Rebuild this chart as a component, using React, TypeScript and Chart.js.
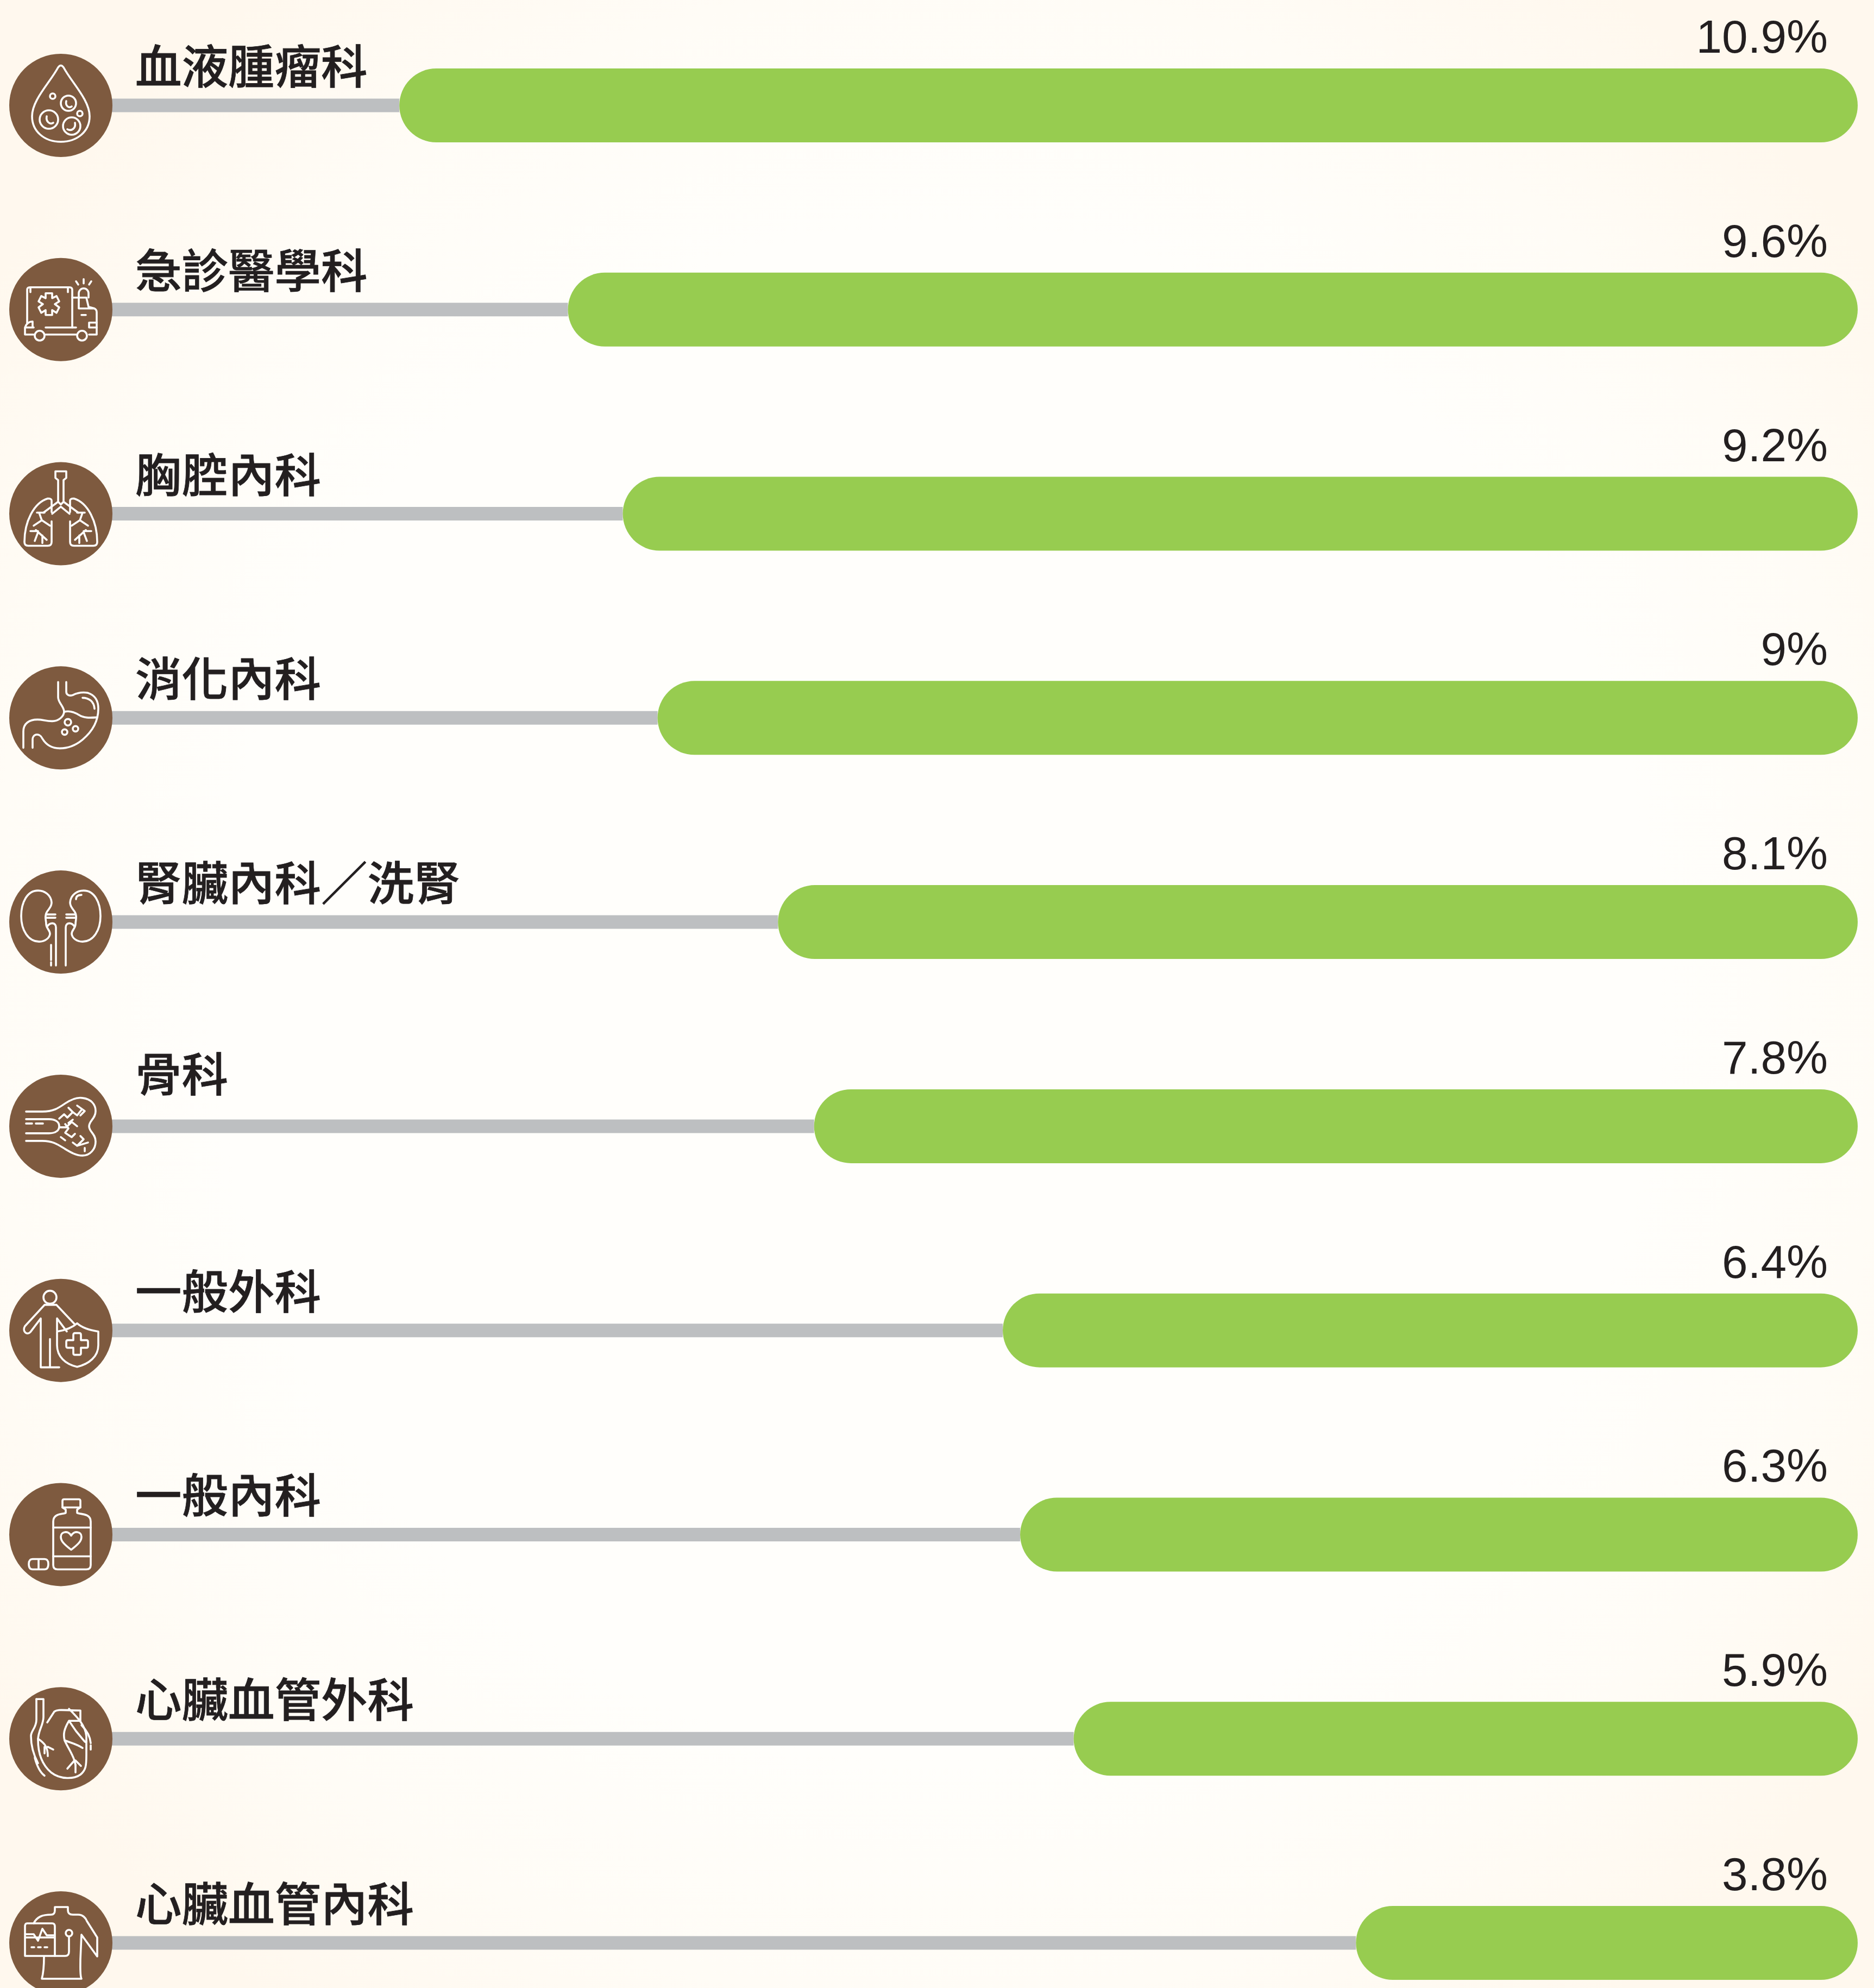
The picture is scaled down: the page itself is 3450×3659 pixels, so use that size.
import React, { useEffect, useRef } from "react";
import { Chart, registerables } from "chart.js";

Chart.register(...registerables);

const departments = ["血液腫瘤科", "急診醫學科", "胸腔內科", "消化內科", "腎臟內科／洗腎", "骨科", "一般外科", "一般內科", "心臟血管外科", "心臟血管內科"];
const percentLabels = ["10.9%", "9.6%", "9.2%", "9%", "8.1%", "7.8%", "6.4%", "6.3%", "5.9%", "3.8%"];
// bar lengths; each rounds to its printed label
const barValues = [10.9, 9.64, 9.23, 8.97, 8.07, 7.8, 6.39, 6.26, 5.86, 3.75];
const AXIS_MAX = 13.43;

const BAR = "#97cc50";
const STEM = "#bdbfc1";
const BROWN = "#7e5a3f";
const INK = "#231f20";

type Ctx = CanvasRenderingContext2D;
const stroke = (c: Ctx, d: string) => c.stroke(new Path2D(d));
const ring = (c: Ctx, x: number, y: number, r: number) => {
  c.beginPath();
  c.arc(x, y, r, 0, Math.PI * 2);
  c.stroke();
};

const icons: ((c: Ctx) => void)[] = [
  // blood drop
  (c) => {
    stroke(c, "M-5,-70 Q0,-77 5,-70 C20,-42 53,-10 53,20 C53,48 30,67 0,67 C-30,67 -53,48 -53,20 C-53,-10 -20,-42 -5,-70 Z");
    ring(c, -22, 26, 17);
    stroke(c, "M-26,20 C-28,30 -20,36 -14,32");
    ring(c, 20, 38, 16);
    stroke(c, "M26,32 C28,42 20,48 12,44");
    ring(c, 14, -4, 14);
    stroke(c, "M10,-8 C8,0 14,6 20,2");
    ring(c, -15, -17, 5); ring(c, 35, 15, 5);
  },
  // ambulance
  (c) => {
    stroke(c, "M-62,26 L-62,-36 Q-62,-41 -57,-41 L16,-41 Q21,-41 21,-36 L21,33 M-56,-41 L-56,-32 M13,-41 L13,-32");
    stroke(c, "M21,-22 L47,-22 L51,-5 L62,-2 Q66,0 66,5 L66,46 L52,46 M33,-22 L33,-2 L62,-2 M38,10 L46,10");
    stroke(c, "M33,-22 L33,-30 A9,9 0 0 1 51,-30 L51,-22");
    stroke(c, "M-66,46 L-66,33 L-52,33 L-52,22 Q-62,22 -66,33 M-66,46 L-50,46 M-28,46 L28,46 M-66,33 L-50,33 M-28,33 L28,33 M52,33 L66,33 M52,33 L52,24 L66,24");
    ring(c, -39, 48, 9); ring(c, 39, 48, 9);
    stroke(c, "M-28,-30 L-16,-30 L-16,-21 L-8,-25 L-3,-15 L-11,-10 L-3,-4 L-8,6 L-16,1 L-16,10 L-28,10 L-28,1 L-36,6 L-41,-4 L-33,-10 L-41,-15 L-36,-25 L-28,-21 Z");
    stroke(c, "M42,-56 L42,-48 M28,-52 L32,-46 M56,-52 L52,-46");
  },
  // lungs
  (c) => {
    stroke(c, "M-10,-78 L10,-78 L10,-66 L5,-62 L5,-22 L32,-2 M-10,-78 L-10,-66 L-5,-62 L-5,-22 L-32,-2 M-5,-22 L0,-17 L5,-22 M-16,0 L0,-13 L16,0");
    for (const s of [-1, 1]) {
      stroke(c, `M${s * 17},-3 L${s * 17},-24 Q${s * 17},-28 ${s * 24},-28 C${s * 50},-20 ${s * 67},15 ${s * 67},52 Q${s * 67},59 ${s * 60},59 L${s * 24},59 Q${s * 17},59 ${s * 17},52 L${s * 17},14`);
      stroke(c, `M${s * 20},22 L${s * 35},12 L${s * 50},22 M${s * 35},12 L${s * 40},-2 M${s * 30},-2 L${s * 44},-2 M${s * 26},48 L${s * 46},30 M${s * 34},40 L${s * 34},54 M${s * 42},32 L${s * 56},32 M${s * 42},34 L${s * 48},50`);
    }
  },
  // stomach
  (c) => {
    stroke(c, "M-5,-66 L-5,-38 C-5,-28 5,-22 6,-12 C6,-2 -5,6 -16,6 C-28,6 -33,3 -43,3 C-58,3 -69,10 -69,25 L-69,55");
    stroke(c, "M10,-66 L10,-48 C10,-42 16,-40 22,-42 C30,-46 40,-48 50,-46 C62,-42 69,-32 69,-17 C69,5 58,25 40,40 C28,50 14,56 -2,56 C-18,56 -28,48 -34,38 C-37,32 -42,30 -46,31 C-50,32 -52,36 -52,40 L-52,55");
    stroke(c, "M6,-11 C16,-14 26,-10 34,-5 C42,0 52,0 66,-1");
    stroke(c, "M40,-37 C52,-37 61,-30 62,-17");
    ring(c, 13, 8, 6); ring(c, 7, 26, 5); ring(c, 27, 20, 5);
  },
  // kidneys
  (c) => {
    for (const s of [-1, 1]) {
      stroke(c, `M${s * 17},-36 C${s * 18},-50 ${s * 30},-58 ${s * 42},-58 C${s * 62},-58 ${s * 73},-36 ${s * 73},-11 C${s * 73},15 ${s * 60},36 ${s * 40},36 C${s * 30},36 ${s * 21},30 ${s * 20},22 C${s * 20},14 ${s * 27},12 ${s * 27},4 C${s * 27},-4 ${s * 30},-8 ${s * 27},-16 C${s * 24},-24 ${s * 17},-26 ${s * 17},-36 Z`);
      stroke(c, `M${s * 27},-14 L${s * 10},-14 M${s * 27},-8 L${s * 10},-8 M${s * 9},80 L${s * 9},10 C${s * 9},0 ${s * 20},0 ${s * 25},8`);
    }
    stroke(c, "M-18,42 L-18,70 M-18,74 L-18,80");
    stroke(c, "M38,-50 C30,-50 28,-46 28,-42");
  },
  // bone
  (c) => {
    stroke(c, "M-64,-27 L-34,-27 C-14,-27 -5,-33 8,-42 C20,-50 30,-54 40,-52 C56,-50 64,-40 64,-28 C64,-14 52,-10 52,0 C52,10 64,14 64,28 C64,42 54,54 40,54 C28,54 18,48 8,42 C-5,34 -14,27 -34,27 L-64,27");
    stroke(c, "M-64,-13 L-22,-13 C-10,-13 -3,-8 -3,0 C-3,8 -10,13 -22,13 L-64,13");
    stroke(c, "M-64,-5 L-53,-5 M-46,-5 L-33,-5");
    stroke(c, "M-3,-14 L6,-22 L12,-16 L22,-26 L30,-20 L38,-30 M14,-34 L22,-26 M30,-38 L44,-28 L36,-20 M-3,2 L10,2 L20,-8 L30,0 M8,-4 L14,4 L8,12 L20,20 L26,14 M0,20 L8,26 M22,30 L30,36 L42,24 L36,18 M30,36 L50,30 M44,40 L44,46 M14,-6 L22,-12");
  },
  // person + shield
  (c) => {
    ring(c, -20, -61, 12);
    stroke(c, "M-30,-47 L-8,-47 L26,-11 M-30,-47 L-66,-8 C-72,2 -62,10 -56,3 L-37,-22 L-37,68 L-3,68 M-20,68 L-20,16 M-7,-22 L-7,0 M-7,-22 L11,2");
    stroke(c, "M30,-13 C40,-4 55,0 69,2 L69,27 C69,48 52,62 30,67 C8,62 -7,48 -7,27 L-7,2 C7,0 20,-4 30,-13 Z");
    stroke(c, "M23,8 Q23,5 26,5 L34,5 Q37,5 37,8 L37,18 L47,18 Q50,18 50,21 L50,29 Q50,32 47,32 L37,32 L37,42 Q37,45 34,45 L26,45 Q23,45 23,42 L23,32 L13,32 Q10,32 10,29 L10,21 Q10,18 13,18 L23,18 Z");
  },
  // medicine bottle
  (c) => {
    stroke(c, "M6,-65 L33,-65 Q36,-65 36,-62 L36,-50 L30,-46 L30,-40 C34,-37 55,-40 55,-24 L55,56 Q55,64 47,64 L-6,64 Q-14,64 -14,56 L-14,-24 C-14,-40 5,-37 9,-40 L9,-46 L3,-50 L3,-62 Q3,-65 6,-65 Z");
    stroke(c, "M3,-50 L36,-50 M-14,-13 L55,-13 M-14,40 L55,40");
    stroke(c, "M19,28 C6,18 0,12 0,4 C0,-6 14,-8 19,2 C24,-8 38,-6 38,4 C38,12 32,18 19,28 Z");
    stroke(c, "M-52,45 L-30,45 Q-23,45 -23,54 Q-23,64 -30,64 L-52,64 Q-59,64 -59,54 Q-59,45 -52,45 Z M-41,45 L-41,64");
  },
  // heart
  (c) => {
    stroke(c, "M-45,-73 L-32,-73 L-32,-40 C-32,-25 -42,-15 -42,2 C-42,30 -32,50 -18,62 C0,76 25,74 36,66 C46,58 47,50 47,30 L47,-5 C45,-25 30,-40 15,-55");
    stroke(c, "M-45,-73 L-45,-35 C-45,-20 -55,-15 -55,-5 C-55,15 -50,30 -42,45");
    stroke(c, "M-25,-30 L-12,-50 C-5,-55 5,-52 36,-52 L36,-33 L15,-33 C6,-18 4,-8 7,3 C12,15 20,25 25,40 L27,48 M15,-33 L28,-14 C40,0 46,10 47,5");
    stroke(c, "M-42,0 C-30,8 -24,15 -24,32 M-24,15 L-14,20 M-30,15 L-30,27 M7,3 C20,8 30,10 40,17 M25,40 L12,55 M27,48 L27,62 M27,40 L37,50");
    stroke(c, "M38,-25 C48,-15 54,-5 55,8 M55,12 L55,20 M-48,35 C-44,50 -38,62 -30,68");
  },
  // monitor + torso
  (c) => {
    stroke(c, "M-50,-36 C-44,-48 -34,-52 -18,-52 Q-11,-52 -11,-60 L-11,-66 L13,-66 L13,-60 Q13,-52 22,-52 L32,-52 C40,-52 46,-46 48,-40 L67,-10 L67,25 L38,-15 L36,30 C36,45 35,60 38,66 L-35,66 C-32,55 -31,40 -31,25");
    stroke(c, "M-62,-36 L-16,-36 Q-11,-36 -11,-30 L-11,24 L-66,24 L-66,-30 Q-66,-36 -62,-36 Z M-66,-10 L-11,-10 M-64,-16 L-50,-16 L-42,-4 L-34,-26 L-26,-14 L-11,-14 M-54,8 L-49,8 M-42,8 L-37,8 M-30,8 L-25,8");
    ring(c, 15, -18, 6);
    stroke(c, "M15,-12 L15,16 Q15,24 8,24 L-11,24");
  },
];

const decorations = {
  id: "decorations",
  afterDatasetsDraw(chart: Chart) {
    const c = chart.ctx;
    const x = chart.scales.x;
    const y = chart.scales.y;
    c.save();
    departments.forEach((name, i) => {
      const py = y.getPixelForTick(i);
      // icon disc, centred on the axis' far end
      c.fillStyle = BROWN;
      c.beginPath();
      c.arc(x.left, py, 95, 0, Math.PI * 2);
      c.fill();
      c.save();
      c.translate(x.left, py);
      c.strokeStyle = "#ffffff";
      c.lineWidth = 3.6;
      c.lineJoin = "round";
      c.lineCap = "round";
      icons[i](c);
      c.restore();
      // department name (the short 骨科 label sits higher in the reference)
      const lift = i === 5 ? 64 : 40;
      c.fillStyle = INK;
      c.strokeStyle = INK;
      c.lineWidth = 0.8;
      c.lineJoin = "miter";
      c.textAlign = "left";
      c.textBaseline = "alphabetic";
      c.font = '500 85.5px "Noto Sans CJK TC"';
      c.fillText(name, 249, py - lift);
      c.strokeText(name, 249, py - lift);
      // printed percentage
      c.textAlign = "right";
      c.font = '85.5px "Liberation Sans"';
      c.fillText(percentLabels[i], 3365, py - 97);
    });
    c.restore();
  },
};

export default function App() {
  const ref = useRef<HTMLCanvasElement>(null);
  useEffect(() => {
    document.body.style.margin = "0";
    const chart = new Chart(ref.current!, {
      type: "bar",
      data: {
        labels: departments,
        datasets: [
          {
            label: "比例",
            data: barValues,
            backgroundColor: BAR,
            barThickness: 136,
            borderRadius: 68,
            borderSkipped: false,
            inflateAmount: 0,
            grouped: false,
            clip: false,
          },
          {
            label: "stem",
            data: barValues.map((v) => [v, AXIS_MAX]),
            backgroundColor: STEM,
            barThickness: 25,
            borderSkipped: false,
            inflateAmount: 0,
            grouped: false,
            clip: false,
          },
        ] as any,
      },
      options: {
        indexAxis: "y",
        animation: false,
        responsive: false,
        layout: { padding: { left: 112, right: 30, top: 194, bottom: 83 } },
        plugins: { legend: { display: false }, tooltip: { enabled: false } },
        scales: {
          x: { type: "linear", reverse: true, min: 0, max: AXIS_MAX, display: false },
          y: { type: "category", offset: false, display: false },
        },
      } as any,
      plugins: [decorations],
    });
    return () => chart.destroy();
  }, []);
  return (
    <div
      style={{
        width: 3450,
        height: 3659,
        overflow: "hidden",
        position: "relative",
        background: "radial-gradient(ellipse 62% 62% at 50% 50%, #fffefb 62%, #fffcf6 82%, #fff8ee 100%)",
      }}
    >
      <canvas ref={ref} width={3450} height={3659} style={{ display: "block" }} />
    </div>
  );
}
